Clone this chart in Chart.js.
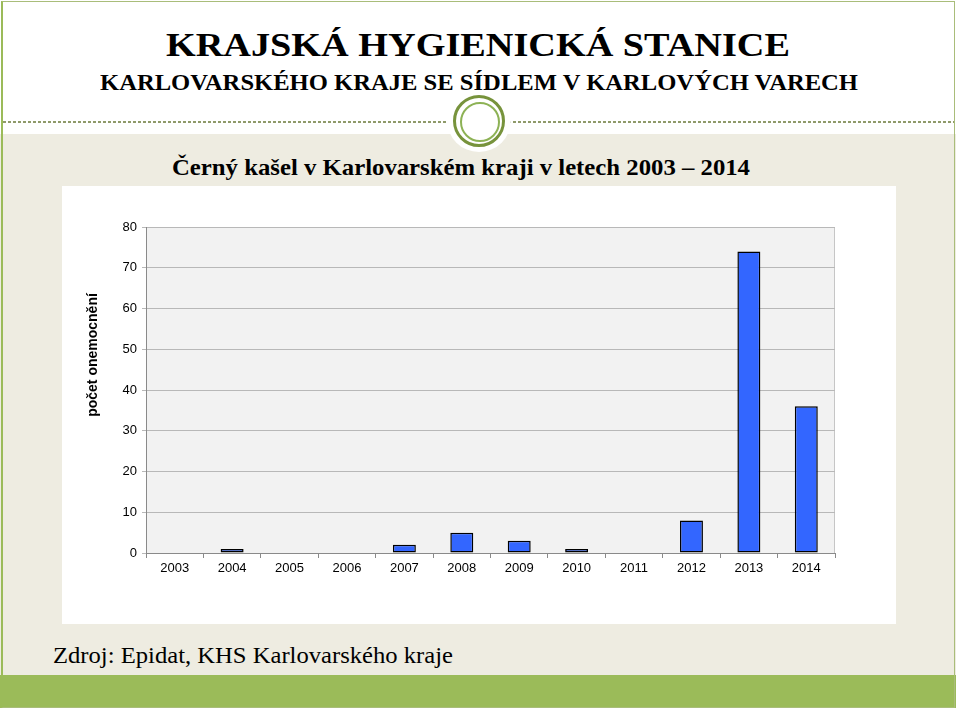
<!DOCTYPE html>
<html>
<head>
<meta charset="utf-8">
<script src="https://cdn.jsdelivr.net/npm/chart.js@4.4.1/dist/chart.umd.min.js"></script>
<style>
  html, body { margin: 0; padding: 0; background: #fff; }
  #slide { position: relative; width: 960px; height: 712px; overflow: hidden; background: #fff; }
  .txt { position: absolute; white-space: nowrap; line-height: 1; color: #000; transform-origin: 0 0; }
  .serifB { font-family: 'Liberation Serif', 'Times New Roman', serif; font-weight: bold; }
  .serif { font-family: 'Liberation Serif', 'Times New Roman', serif; }
  #beige { position: absolute; left: 0; top: 134px; width: 956px; height: 541px; background: #EEECE1; }
  #greenbar { position: absolute; left: 0; top: 675px; width: 956px; height: 33px; background: #9BBB59; }
  #dash { position: absolute; left: 3px; top: 121px; width: 952px; height: 2px;
          background: repeating-linear-gradient(90deg, #8f9a6a 0 3px, transparent 3px 5px); }
  #frame { position: absolute; left: 1px; top: 1px; width: 954px; height: 707px;
           border: 1px solid #a9bd7a; border-left: 2px solid #9BBB59; box-sizing: border-box; }
  #logoBack { position: absolute; left: 447px; top: 88px; width: 64px; height: 64px; border-radius: 50%; background: #fff; }
  #ring1 { position: absolute; left: 453px; top: 95px; width: 46px; height: 46px; border-radius: 50%; border: 3px solid #77933C; }
  #ring2 { position: absolute; left: 460px; top: 102px; width: 36px; height: 36px; border-radius: 50%; border: 2px solid #8DB255; }
  #box { position: absolute; left: 62px; top: 186px; width: 834px; height: 438px; background: #fff; }
</style>
</head>
<body>
<div id="slide">
  <div id="beige"></div>
  <div id="greenbar"></div>
  <div id="dash"></div>
  <div id="logoBack"></div>
  <div id="ring1"></div>
  <div id="ring2"></div>
  <div id="frame"></div>

  <div class="txt serifB" id="t1" data-w="624" style="left:166px; top:28px; font-size:34px;">KRAJSKÁ HYGIENICKÁ STANICE</div>
  <div class="txt serifB" id="t2" data-w="758" style="left:100px; top:70px; font-size:24px;">KARLOVARSKÉHO KRAJE SE SÍDLEM V KARLOVÝCH VARECH</div>
  <div class="txt serifB" id="t3" data-w="578" style="left:172px; top:156px; font-size:23px;">Černý kašel v Karlovarském kraji v letech 2003 – 2014</div>
  <div class="txt serif" id="t4" data-w="400" style="left:53px; top:644px; font-size:23px;">Zdroj: Epidat, KHS Karlovarského kraje</div>

  <div id="box"><canvas id="myChart" width="834" height="438"></canvas></div>
</div>

<script>
// data
const years = ['2003', '2004', '2005', '2006', '2007', '2008', '2009', '2010', '2011', '2012', '2013', '2014'];
const cases = [0, 1, 0, 0, 2, 5, 3, 1, 0, 8, 74, 36];
const yMin = 0;
const yMax = 80;
const yStep = 10;
const yTitle = 'počet onemocnění';

// squeeze the slide texts to their width in the picture
document.querySelectorAll('.txt').forEach(el => {
    const w = el.getBoundingClientRect().width;
    el.style.transform = `scaleX(${el.dataset.w / w})`;
});

Chart.defaults.font.family = "'Liberation Sans', Arial, sans-serif";
Chart.defaults.color = '#000';

const plotBack = {
    id: 'plotBack',
    beforeDraw(chart) {
        const { ctx, chartArea: a } = chart;
        ctx.save();
        ctx.fillStyle = '#F2F2F2';
        ctx.fillRect(a.left, a.top, a.right - a.left, a.bottom - a.top);
        ctx.strokeStyle = '#C6C6C6';
        ctx.lineWidth = 1;
        ctx.strokeRect(a.left + 0.5, a.top + 0.5, a.right - a.left - 1, a.bottom - a.top);
        ctx.restore();
    },
    afterDraw(chart) {
        // y axis title, placed off-centre like in the original
        const ctx = chart.ctx;
        ctx.save();
        ctx.translate(31, 169);
        ctx.rotate(-Math.PI / 2);
        ctx.font = "bold 14px 'Liberation Sans', Arial, sans-serif";
        ctx.fillStyle = '#000';
        ctx.textAlign = 'center';
        ctx.textBaseline = 'middle';
        ctx.fillText(yTitle, 0, 0);
        ctx.restore();
    }
};

const ctx = document.getElementById('myChart');

new Chart(ctx, {
    type: 'bar',
    data: {
        labels: years,
        datasets: [{
            label: 'Černý kašel',
            data: cases,
            backgroundColor: '#3366FF',
            borderColor: '#000',
            borderWidth: 1.5,
            borderSkipped: false,
            barPercentage: 0.4,
            categoryPercentage: 1
        }]
    },
    options: {
        responsive: false,
        animation: false,
        devicePixelRatio: 1,
        layout: { padding: { left: 0, top: 41, right: 61, bottom: 0 } },
        plugins: {
            legend: { display: false },
            tooltip: { enabled: false }
        },
        scales: {
            x: {
                afterFit(s) { s.height = 71; },
                grid: { drawOnChartArea: false, tickLength: 5, color: '#8A8A8A' },
                border: { color: '#8A8A8A' },
                ticks: { font: { size: 13 }, padding: 3, maxRotation: 0 }
            },
            y: {
                min: yMin,
                max: yMax,
                afterFit(s) { s.width = 84; },
                grid: { color: '#B8B8B8', tickLength: 4 },
                border: { color: '#8A8A8A' },
                ticks: { stepSize: yStep, font: { size: 13 }, padding: 5 }
            }
        }
    },
    plugins: [plotBack]
});
</script>
</body>
</html>
